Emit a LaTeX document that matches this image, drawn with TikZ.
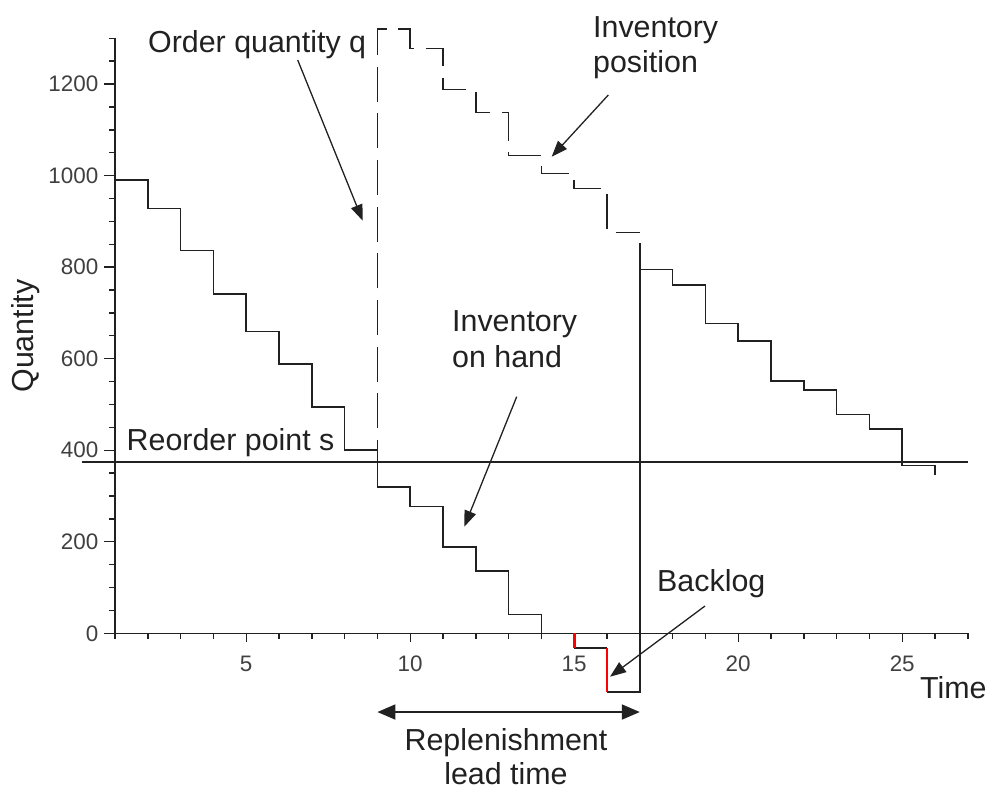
\documentclass[tikz,border=0pt]{standalone}
\usepackage{fontspec}
\setmainfont{Liberation Sans}
\usetikzlibrary{arrows.meta}
\definecolor{ink}{gray}{0.13}
\definecolor{labink}{gray}{0.25}
\begin{document}
\begin{tikzpicture}[x=1bp,y=-1bp,
  lbl/.style={font=\fontsize{30.5}{36}\selectfont, text=ink, inner sep=0pt},
  ticklbl/.style={font=\fontsize{22.5}{26}\selectfont, text=labink, inner sep=0pt},
  curve/.style={draw=ink, line width=1.6bp},
  invpos/.style={draw=ink, line width=1.6bp, dash pattern=on 35bp off 11.7bp, dash phase=35bp},
  backlogseg/.style={draw=red, line width=2.6bp},
  axisline/.style={draw=ink, line width=1.4bp},
  ptr/.style={draw=ink, line width=1.3bp, -{Triangle[length=16bp,width=12bp]}},
  span/.style={draw=ink, line width=1.8bp, {Triangle[length=18bp,width=15bp]}-{Triangle[length=18bp,width=15bp]}},
]
\useasboundingbox (0,0) rectangle (989,792);

\begin{scope}[shift={(82.2,633.3)}, x=32.8bp, y=0.4577bp]
  % axes
  \draw[axisline] (1,1300) -- (1,0) -- (27,0);
  \foreach \t in {1,...,27}{
    \pgfmathtruncatemacro{\m}{mod(\t,5)}
    \ifnum\m=0
      \draw[axisline] (\t,0) -- ++(0bp,-9bp);
      \node[ticklbl] (xl\t) at ([yshift=-30.5bp]\t,0) {\t};
    \else
      \draw[axisline] (\t,0) -- ++(0bp,-6bp);
    \fi
  }
  \foreach \q in {0,50,...,1300}{
    \pgfmathtruncatemacro{\m}{mod(\q,200)}
    \ifnum\m=0
      \draw[axisline] (1,\q) -- ++(-11bp,0bp);
      \node[ticklbl, anchor=east] (yl\q) at ([xshift=-16.5bp]1,\q) {\q};
    \else
      \draw[axisline] (1,\q) -- ++(-6bp,0bp);
    \fi
  }

  % reorder point line
  \draw[curve, line width=1.4bp] (0,374) -- (27,374);

  % inventory position (dashed)
  \draw[invpos] (9,320) -- (9,1320) -| (10,1278) -| (11,1188) -| (12,1138)
     -| (13,1044) -| (14,1005) -| (15,972) -| (16,876) -- (17,876);

  % inventory on hand
  \draw[curve] (1,990) -| (2,928) -| (3,836) -| (4,741) -| (5,659) -| (6,588)
     -| (7,495) -| (8,400) -| (9,320) -| (10,277) -| (11,188) -| (12,136)
     -| (13,41) -| (14,0) -- (15,0);
  \draw[curve] (15,-31.5) -- (16,-31.5);
  \draw[curve] (16,-127.6) -- (17,-127.6) -- (17,852);
  \draw[curve] (17,795) -| (18,761) -| (19,677) -| (20,639) -| (21,551)
     -| (22,532) -| (23,478) -| (24,446) -| (25,367) -| (26,346);
  \draw[backlogseg] (15,0) -- (15,-31.5);
  \draw[backlogseg] (16,-31.5) -- (16,-127.6);

  % lead time span
  \coordinate (ltA) at (9,-172);
  \coordinate (ltB) at (17,-172);
  \draw[span] (ltA) -- (ltB);
\end{scope}

% labels (multi-line nodes: base = last line)
\node[lbl, anchor=base west] (oq) at (148,53) {Order quantity q};
\node[lbl, anchor=base west, align=left] (ip) at (593,73) {Inventory\\position};
\node[lbl, anchor=base west] (rp) at (126.5,450) {Reorder point s};
\node[lbl, anchor=base west, align=left] (oh) at (452,367.3) {Inventory\\on hand};
\node[lbl, anchor=base west] (bl) at (657,591) {Backlog};
\node[lbl, anchor=base west] (tm) at (920,698) {Time};
\node[lbl, anchor=base, rotate=90] (qt) at (33,336) {Quantity};
\node[lbl, anchor=base] (rl1) at (506,750) {Replenishment};
\node[lbl, anchor=base] (rl2) at (506,784.5) {lead time};

% pointer arrows
\coordinate (oqS) at (297.7,60);   \coordinate (oqT) at (362.7,220.7);
\coordinate (ipS) at (608.3,95);   \coordinate (ipT) at (551.7,156.7);
\coordinate (ohS) at (516.7,396.7); \coordinate (ohT) at (464.3,526.7);
\coordinate (blS) at (705,606);    \coordinate (blT) at (610,676.7);
\draw[ptr] (oqS) -- (oqT);
\draw[ptr] (ipS) -- (ipT);
\draw[ptr] (ohS) -- (ohT);
\draw[ptr] (blS) -- (blT);
\end{tikzpicture}
\end{document}
